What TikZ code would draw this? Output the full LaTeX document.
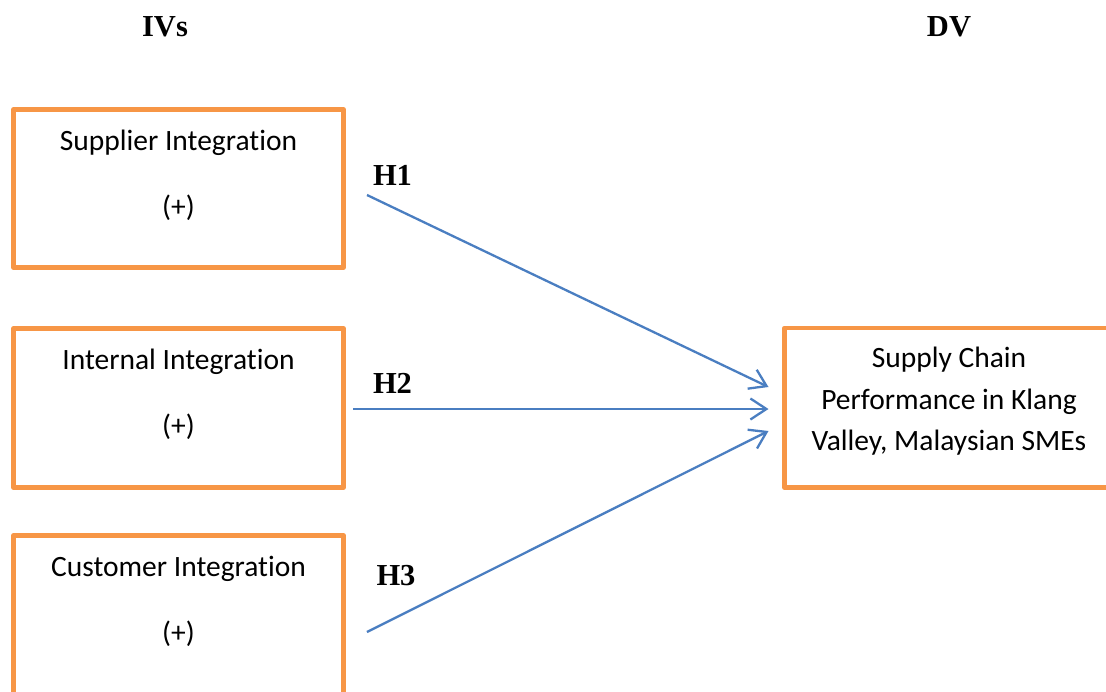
\documentclass[tikz,border=0pt]{standalone}
\usepackage{fontspec}
\setmainfont{Carlito}[Ligatures={NoCommon,NoRare,NoContextual},RawFeature={-liga;-clig;-dlig}]
\newfontfamily\hdrfont{Liberation Serif}
\usetikzlibrary{arrows.meta,calc}
\definecolor{boxorange}{RGB}{247,150,70}
\definecolor{arrowblue}{RGB}{74,126,193}
\begin{document}
\begin{tikzpicture}[x=1pt,y=-1pt,
  varbox/.style={draw=boxorange,line width=4.6pt,line join=round,fill=white,
    minimum width=330pt,inner sep=0pt,outer sep=0pt},
  boxtext/.style={anchor=base,inner sep=0pt,font=\fontsize{29.5}{41.5}\selectfont},
  hdr/.style={anchor=base,inner sep=0pt,font=\hdrfont\bfseries\fontsize{30.5}{36}\selectfont},
  hyparrow/.style={draw=arrowblue,line width=2.3pt,
    -{Straight Barb[length=16pt,width=21pt,line width=2.3pt]}}]
\useasboundingbox (0,0) rectangle (1106,691);
\clip (0,0) rectangle (1106,691);
\fill[white] (0,0) rectangle (1106,691);

% headers
\node[hdr] (ivs) at (165,36) {IVs};
\node[hdr] (dvh) at (949,36) {DV};

% independent variable boxes
\node[varbox,minimum height=158pt] (sup) at (178.5,188.5) {};
\node[varbox,minimum height=159pt] (int) at (178.5,408) {};
\node[varbox,minimum height=185pt] (cus) at (178.5,628) {};
% dependent variable box
\node[varbox,minimum width=346pt,minimum height=159.5pt] (dv) at (957.5,407.75) {};

% box texts
\node[boxtext] (supname) at (178.5,150) {Supplier Integration};
\node[boxtext] (supsign) at (178.5,216) {(+)};
\node[boxtext] (intname) at (178.5,369) {Internal Integration};
\node[boxtext] (intsign) at (178.5,435) {(+)};
\node[boxtext] (cusname) at (178.5,576) {Customer Integration};
\node[boxtext] (cussign) at (178.5,642) {(+)};
\node[boxtext] (dvl1) at (949,367) {Supply Chain};
\node[boxtext] (dvl2) at (949,409) {Performance in Klang};
\node[boxtext] (dvl3) at (949,450) {Valley, Malaysian SMEs};

% hypothesis labels
\node[hdr] (h1) at (392.5,185) {H1};
\node[hdr] (h2) at (392.5,393) {H2};
\node[hdr] (h3) at (396,585) {H3};

% connector end points
\coordinate (s1) at (367,195);
\coordinate (s2) at (353,409);
\coordinate (s3) at (367,632);
\coordinate (e1) at ($(dv.west)+(-16,-20.75)$);
\coordinate (e2) at ($(dv.west)+(-16,1.25)$);
\coordinate (e3) at ($(dv.west)+(-16,23.25)$);

\draw[hyparrow] (s1) -- (e1);
\draw[hyparrow] (s2) -- (e2);
\draw[hyparrow] (s3) -- (e3);
\end{tikzpicture}
\end{document}
